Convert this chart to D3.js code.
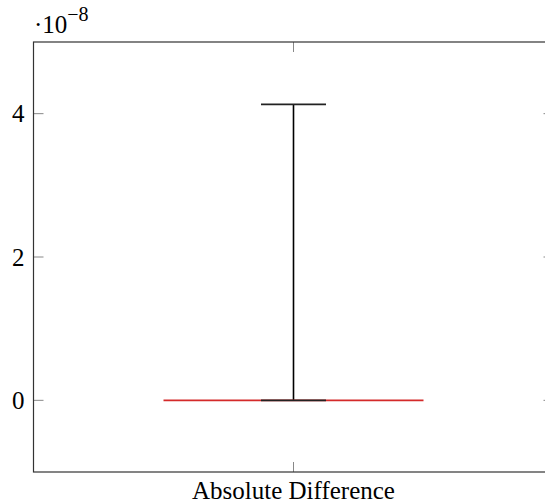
<!DOCTYPE html>
<html>
<head>
<meta charset="utf-8">
<script src="https://cdn.jsdelivr.net/npm/d3@7"></script>
<style>
  body { margin: 0; background: #fff; }
  svg text { font-family: "Liberation Serif", "Times New Roman", serif; fill: #000; }
</style>
</head>
<body>
<div id="chart"></div>
<script>
// boxplot data (values in units of 1e-8)
var categories = ["Absolute Difference"];
var lowerWhisker = [0];
var lowerQuartile = [0];
var median = [0];
var upperQuartile = [0];
var upperWhisker = [4.13];
var yTicks = [0, 2, 4];
var exponent = -8;

var W = 545, H = 504;
var margin = { top: 42, left: 33.5 };
var plotW = 520, plotH = 430;

var svg = d3.select("#chart").append("svg")
    .attr("width", W)
    .attr("height", H);

var g = svg.append("g")
    .attr("transform", "translate(" + margin.left + "," + margin.top + ")");

var x = d3.scaleLinear().domain([0.5, 1.5]).range([0, plotW]);
var y = d3.scaleLinear().domain([-1, 5]).range([plotH, 0]);

var boxHalf = 0.25, capHalf = 0.0625;

// ticks (inside, both sides)
var tickLen = 10;
yTicks.forEach(function(t) {
    g.append("line").attr("x1", 0).attr("x2", tickLen)
        .attr("y1", y(t)).attr("y2", y(t))
        .attr("stroke", "#888").attr("stroke-width", 1);
    g.append("line").attr("x1", plotW).attr("x2", plotW - tickLen)
        .attr("y1", y(t)).attr("y2", y(t))
        .attr("stroke", "#888").attr("stroke-width", 1);
    g.append("text").attr("x", -9).attr("y", y(t))
        .attr("dy", "0.34em")
        .attr("text-anchor", "end")
        .attr("font-size", 25)
        .text(t);
});

categories.forEach(function(c, i) {
    var cx = x(i + 1);
    g.append("line").attr("x1", cx).attr("x2", cx)
        .attr("y1", plotH).attr("y2", plotH - tickLen)
        .attr("stroke", "#888").attr("stroke-width", 1);
    g.append("line").attr("x1", cx).attr("x2", cx)
        .attr("y1", 0).attr("y2", tickLen)
        .attr("stroke", "#888").attr("stroke-width", 1);
    g.append("text").attr("x", cx).attr("y", plotH + 27)
        .attr("text-anchor", "middle")
        .attr("font-size", 25)
        .text(c);

    // whisker
    g.append("line").attr("x1", cx).attr("x2", cx)
        .attr("y1", y(upperQuartile[i])).attr("y2", y(upperWhisker[i]))
        .attr("stroke", "#000").attr("stroke-width", 1.6);
    g.append("line").attr("x1", cx).attr("x2", cx)
        .attr("y1", y(lowerQuartile[i])).attr("y2", y(lowerWhisker[i]))
        .attr("stroke", "#000").attr("stroke-width", 1.6);

    // box (collapsed) and median
    g.append("rect")
        .attr("x", x(i + 1 - boxHalf))
        .attr("y", y(upperQuartile[i]))
        .attr("width", x(i + 1 + boxHalf) - x(i + 1 - boxHalf))
        .attr("height", Math.max(0, y(lowerQuartile[i]) - y(upperQuartile[i])))
        .attr("fill", "none")
        .attr("stroke", "#d42a2a").attr("stroke-width", 1.6);
    g.append("line")
        .attr("x1", x(i + 1 - boxHalf)).attr("x2", x(i + 1 + boxHalf))
        .attr("y1", y(median[i])).attr("y2", y(median[i]))
        .attr("stroke", "#d42a2a").attr("stroke-width", 1.6);

    // caps
    [upperWhisker[i], lowerWhisker[i]].forEach(function(v) {
        g.append("line")
            .attr("x1", x(i + 1 - capHalf)).attr("x2", x(i + 1 + capHalf))
            .attr("y1", y(v)).attr("y2", y(v))
            .attr("stroke", "#222").attr("stroke-width", 1.6);
    });
});

// axis frame
g.append("rect").attr("x", 0).attr("y", 0)
    .attr("width", plotW).attr("height", plotH)
    .attr("fill", "none").attr("stroke", "#333").attr("stroke-width", 1.2);

// exponent label
var ex = svg.append("text").attr("x", 34).attr("y", 33).attr("font-size", 25);
ex.append("tspan").text("\u00b710");
ex.append("tspan").attr("dy", -12).attr("font-size", 20).text("\u2212" + Math.abs(exponent));
</script>
</body>
</html>
